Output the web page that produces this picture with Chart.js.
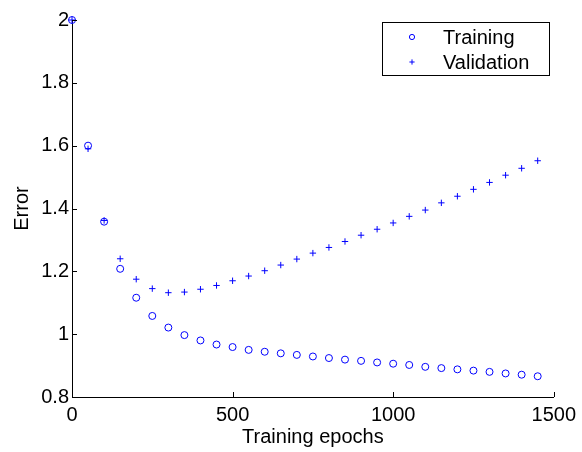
<!DOCTYPE html>
<html>
<head>
<meta charset="utf-8">
<script src="https://cdn.jsdelivr.net/npm/chart.js@4/dist/chart.umd.min.js"></script>
<style>
  html, body { margin: 0; padding: 0; background: #fff; }
  #wrap { width: 582px; height: 452px; }
</style>
</head>
<body>
<div id="wrap"><canvas id="errChart" width="582" height="452"></canvas></div>
<script>
// data
var epochs = [0, 50, 100, 150, 200, 250, 300, 350, 400, 450, 500, 550, 600, 650, 700,
              750, 800, 850, 900, 950, 1000, 1050, 1100, 1150, 1200, 1250, 1300, 1350, 1400, 1450];
var trainingErr = [2.0, 1.60, 1.358, 1.208, 1.116, 1.058, 1.021, 0.997, 0.980, 0.967,
                   0.959, 0.950, 0.944, 0.939, 0.934, 0.929, 0.924, 0.919, 0.915, 0.910,
                   0.906, 0.902, 0.896, 0.892, 0.888, 0.884, 0.880, 0.875, 0.871, 0.866];
var validationErr = [2.0, 1.59, 1.362, 1.24, 1.175, 1.145, 1.132, 1.134, 1.143, 1.155,
                     1.170, 1.185, 1.202, 1.220, 1.239, 1.258, 1.276, 1.295, 1.315, 1.334,
                     1.354, 1.375, 1.395, 1.418, 1.439, 1.461, 1.483, 1.506, 1.528, 1.552];
var xTicks = [0, 500, 1000, 1500];
var seriesNames = ['Training', 'Validation'];

var FONT = '"Liberation Sans", Arial, Helvetica, sans-serif';
var FSIZE = 20;
var BLUE = 'rgb(0, 0, 255)';

function toPoints(xs, ys) {
    return xs.map(function (x, i) { return { x: x, y: ys[i] }; });
}

// matlab style ticks pointing into the plot
var innerTicks = {
    id: 'innerTicks',
    afterDraw: function (chart) {
        var ctx = chart.ctx, area = chart.chartArea;
        var xs = chart.scales.x, ys = chart.scales.y;
        ctx.save();
        ctx.strokeStyle = '#000';
        ctx.lineWidth = 1;
        ctx.beginPath();
        xs.ticks.forEach(function (t) {
            var px = Math.round(xs.getPixelForValue(t.value)) + 0.5;
            ctx.moveTo(px, area.bottom);
            ctx.lineTo(px, area.bottom - 5);
        });
        ys.ticks.forEach(function (t) {
            var py = Math.round(ys.getPixelForValue(t.value)) + 0.5;
            ctx.moveTo(area.left, py);
            ctx.lineTo(area.left + 5, py);
        });
        ctx.stroke();
        ctx.restore();
    }
};

// boxed legend in the top right corner
var boxLegend = {
    id: 'boxLegend',
    afterDraw: function (chart) {
        var ctx = chart.ctx;
        var x0 = 382, y0 = 22, w = 167, h = 53;
        ctx.save();
        ctx.fillStyle = '#fff';
        ctx.fillRect(x0, y0, w, h);
        ctx.strokeStyle = '#000';
        ctx.lineWidth = 1;
        ctx.strokeRect(x0 + 0.5, y0 + 0.5, w, h);
        ctx.textBaseline = 'middle';
        chart.data.datasets.forEach(function (ds, i) {
            var cy = y0 + 15 + i * 25;
            ctx.strokeStyle = BLUE;
            ctx.fillStyle = 'rgba(0,0,0,0)';
            ctx.lineWidth = 1;
            Chart.helpers.drawPoint(ctx, {
                pointStyle: ds.pointStyle,
                radius: 2.6,
                borderWidth: 1
            }, 412, cy);
            ctx.font = FSIZE + 'px ' + FONT;
            ctx.fillStyle = '#000';
            ctx.fillText(ds.label, 443, cy + 1);
        });
        ctx.restore();
    }
};

new Chart(document.getElementById('errChart').getContext('2d'), {
    type: 'scatter',
    data: {
        datasets: [{
            label:           seriesNames[0],
            data:            toPoints(epochs, trainingErr),
            pointStyle:      'circle',
            pointRadius:     3.5,
            borderColor:     BLUE,
            backgroundColor: 'rgba(0,0,0,0)',
            borderWidth:     1,
            clip:            false
        }, {
            label:           seriesNames[1],
            data:            toPoints(epochs, validationErr),
            pointStyle:      'cross',
            pointRadius:     3.2,
            borderColor:     BLUE,
            backgroundColor: BLUE,
            borderWidth:     1,
            clip:            false
        }]
    },
    options: {
        responsive: false,
        animation: false,
        layout: { padding: { top: 20, right: 27, left: 0, bottom: 0 } },
        plugins: {
            legend:  { display: false },
            tooltip: { enabled: false }
        },
        scales: {
            x: {
                type: 'linear',
                min: 0,
                max: 1500,
                afterFit: function (s) { s.height = 55; },
                afterBuildTicks: function (s) {
                    s.ticks = xTicks.map(function (v) { return { value: v }; });
                },
                grid:   { display: false, drawTicks: false },
                border: { display: true, color: '#000', width: 1 },
                ticks:  {
                    color: '#000',
                    padding: 6,
                    maxRotation: 0,
                    font: { family: FONT, size: FSIZE },
                    callback: function (v) { return String(v); }
                },
                title:  { display: true, text: 'Training epochs', color: '#000',
                          padding: { top: 0, bottom: 3 },
                          font: { family: FONT, size: FSIZE } }
            },
            y: {
                min: 0.8,
                max: 2,
                afterFit: function (s) { s.width = 72; },
                grid:   { display: false, drawTicks: false },
                border: { display: true, color: '#000', width: 1 },
                ticks:  {
                    stepSize: 0.2,
                    color: '#000',
                    padding: 3,
                    font: { family: FONT, size: FSIZE },
                    callback: function (v) { return String(Number(v.toFixed(1))); }
                },
                title:  { display: true, text: 'Error', color: '#000',
                          padding: { top: 10, bottom: 0 },
                          font: { family: FONT, size: FSIZE } }
            }
        }
    },
    plugins: [innerTicks, boxLegend]
});
</script>
</body>
</html>
